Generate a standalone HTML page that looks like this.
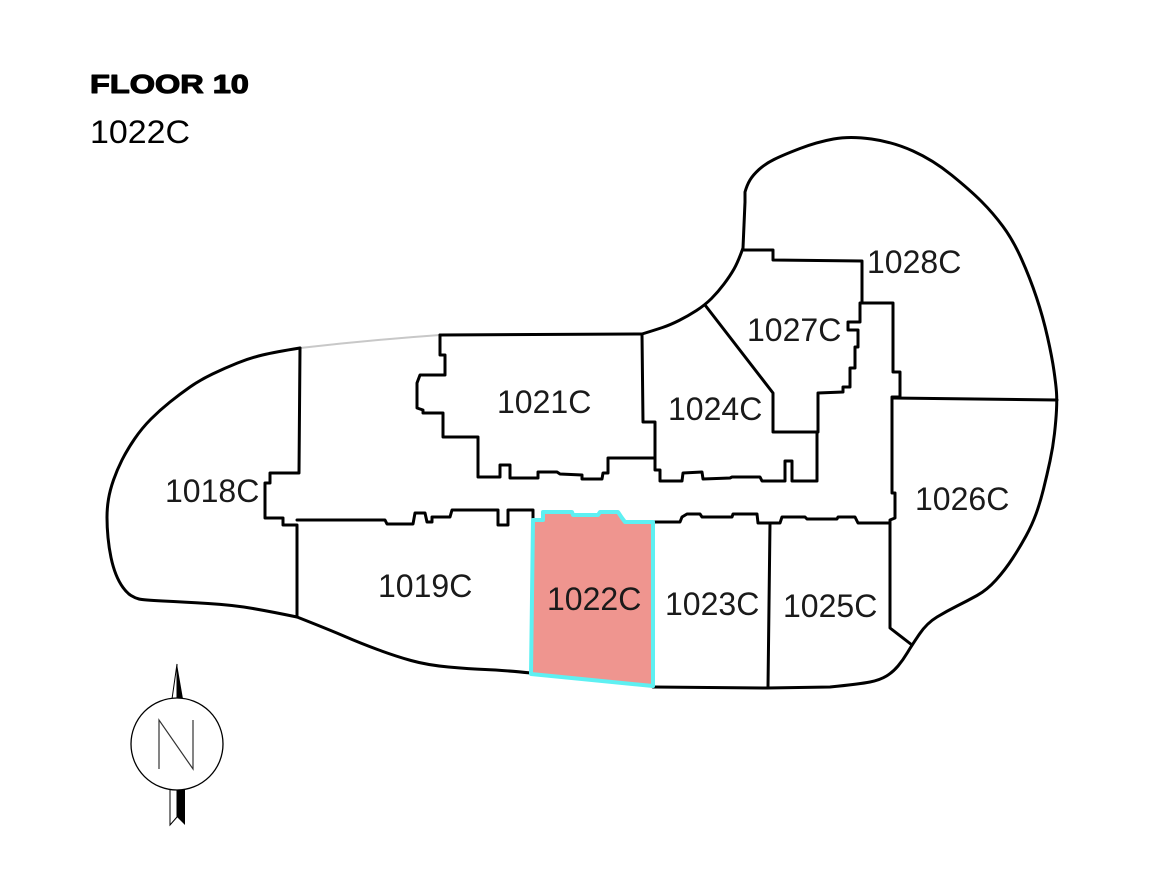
<!DOCTYPE html>
<html>
<head>
<meta charset="utf-8">
<style>
html,body{margin:0;padding:0;background:#fff;}
body{width:1162px;height:881px;overflow:hidden;}
svg{display:block;}
.lbl{font-family:"Liberation Sans",Arial,sans-serif;font-size:32px;fill:#1a1a1a;}
</style>
</head>
<body>
<svg width="1162" height="881" viewBox="0 0 1162 881" xmlns="http://www.w3.org/2000/svg">
  <rect width="1162" height="881" fill="#fff"/>

  <!-- Header -->
  <g transform="translate(90,93) scale(1.25,1)">
    <text x="0" y="0" font-family="Liberation Sans, Arial, sans-serif" font-weight="bold" font-size="26" fill="#000" stroke="#000" stroke-width="1.1" stroke-linejoin="round">FLOOR 10</text>
  </g>
  <text x="90" y="143" font-family="Liberation Sans, Arial, sans-serif" font-size="32" fill="#000" textLength="100" lengthAdjust="spacingAndGlyphs">1022C</text>

  <!-- gray outline segment -->
  <path d="M300,348 Q370,340 440,335" fill="none" stroke="#c8c8c8" stroke-width="2"/>

  <g fill="none" stroke="#000" stroke-width="3" stroke-linejoin="round" stroke-linecap="round">
    <!-- top of 1021C -->
    <path d="M440,335 L642,334"/>
    <!-- concave arc -->
    <path d="M642,334 Q655,330 662.5,327.5 Q670,325 679,320.5 Q688,316 696.5,310.5 Q705,305 711.5,298.5 Q718,292 724,284 Q730,276 734,269 Q738,262 743,248"/>
    <!-- right lobe -->
    <path d="M743,248 L744,225 L745,202 L745,192 Q747,185 750,180 Q753,175 759,169.5 Q765,164 774,159.5 Q783,155 800,148.5 Q817,142 833.5,139 Q850,136 871.5,139 Q893,142 913,151 Q933,160 951.5,175 Q970,190 981.5,201.5 Q993,213 1003,226.5 Q1013,240 1021.5,259 Q1030,278 1036.5,297.5 Q1043,317 1047.5,337 Q1052,357 1054,371 Q1056,385 1056.5,392.5 Q1057,400 1056.5,410 Q1056,420 1054.5,433.5 Q1053,447 1050,461 Q1047,475 1043.5,489 Q1040,503 1036,514 Q1032,525 1026,536 Q1020,547 1012.5,558.5 Q1005,570 996,580 Q987,590 977,595.5 Q967,601 957,606 Q947,611 937,617 Q927,623 919.5,634 Q912,645 907.5,652.5 Q903,660 898,666 Q893,672 886.5,676 Q880,680 870,682 Q860,684 830,687 L767,688 L653,687"/>
    <!-- bottom middle -->
    <path d="M531,673 Q500,670 485,669.5 Q470,669 448.5,667 Q427,665 411,660.5 Q395,656 377.5,649.5 Q360,643 345,636.5 Q330,630 297,617"/>
    <!-- left blob -->
    <path d="M297,617 Q273,612 253,608.5 Q233,605 208,603.5 Q183,602 163,601 Q143,600 139,599 Q135,598 131,595.5 Q127,593 123,587.5 Q119,582 116,574.5 Q113,567 111,557.5 Q109,548 108,537.5 Q107,527 107,517.5 Q107,508 108.5,499 Q110,490 113.5,480 Q117,470 122,460 Q127,450 134.5,439 Q142,428 151,419 Q160,410 170,402 Q180,394 190,387 Q200,380 212.5,374 Q225,368 237.5,363 Q250,358 262.5,355 Q275,352 300,348"/>

    <!-- 1018C right wall / corridor left end -->
    <polyline points="300,348 299,473 270,473 270,483 265,483 265,518 283,518 283,525 297,525 297,617"/>

    <!-- corridor south edge, left part -->
    <polyline points="297,520 385,520 387,524 413,524 415,513 425,513 427,522 432,522 432,517 450,517 452,510 498,510 498,525 508,525 508,510 533,510 533,520"/>

    <!-- 1021C -->
    <polyline points="440,335 440,355 445,355 445,375 420,375 417,383 417,408 423,410 423,413 443,413 443,437 478,437 478,477 500,477 500,465 510,465 510,478 538,478 538,472 557,472 560,474 582,475 582,479 602,479 603,473 608,473 608,458 655,458"/>

    <!-- 1021C/1024C wall and 1024C -->
    <polyline points="642,334 643,422 655,422 655,470 660,470 660,481 682,481 683,473 702,472 703,479 730,478 732,477 760,477 762,481 785,481 785,461 792,461 792,481 817,481 817,432 773,432 773,393 705,305"/>

    <!-- 1027C -->
    <polyline points="744,250 773,250 773,260 862,261 862,303 860,303 860,322 848,322 848,330 858,330 858,347 855,347 855,368 850,368 850,387 843,387 843,392 818,393 818,432"/>

    <!-- corridor east column / 1026C -->
    <polyline points="862,303 893,303 893,372 900,372 900,397 892,397 892,493 895,493 895,518 890,520 890,628 912,645"/>
    <polyline points="892,398 1057,400"/>

    <!-- south units top edge right of 1022C -->
    <polyline points="653,522 680,522 682,517 687,514 700,514 702,517 732,517 733,514 757,514 758,523 780,523 782,517 805,517 807,519 837,519 838,517 855,517 858,523 890,523"/>

    <!-- 1023C/1025C divider -->
    <polyline points="770,523 768,687"/>
  </g>

  <!-- 1022C highlighted -->
  <polygon points="533,520 543,520 543,512 572,512 573,515 598,515 600,512 618,512 622,518 625,522 653,522 653,686 531,674" fill="#ef958f" stroke="#5ef0f2" stroke-width="4" stroke-linejoin="round"/>

  <!-- labels -->
  <text class="lbl" x="497" y="413">1021C</text>
  <text class="lbl" x="547" y="610">1022C</text>
  <text class="lbl" x="665" y="615">1023C</text>
  <text class="lbl" x="783" y="617">1025C</text>
  <text class="lbl" x="668" y="420">1024C</text>
  <text class="lbl" x="747" y="341">1027C</text>
  <text class="lbl" x="867" y="273">1028C</text>
  <text class="lbl" x="915" y="510">1026C</text>
  <text class="lbl" x="165" y="502">1018C</text>
  <text class="lbl" x="378" y="597">1019C</text>

  <!-- compass -->
  <g>
    <polygon points="177,664 172,699 177,699" fill="#fff" stroke="#000" stroke-width="1"/>
    <polygon points="177,664 183,699 177,699" fill="#000"/>
    <polygon points="170,789 177,789 177,817 170,825" fill="#fff" stroke="#000" stroke-width="1"/>
    <polygon points="177,789 185,789 185,825 177,817" fill="#000"/>
    <circle cx="177" cy="744" r="46" fill="#fff" stroke="#000" stroke-width="1.3"/>
    <polyline points="159,769 159,720 193,769 193,720" fill="none" stroke="#333" stroke-width="1.2"/>
  </g>
</svg>
</body>
</html>
